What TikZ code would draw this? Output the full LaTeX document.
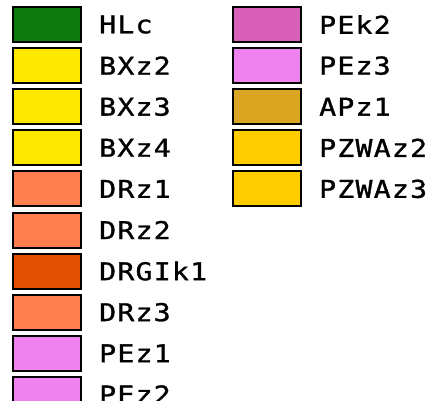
\documentclass[tikz,border=0pt]{standalone}
\usepackage{fontspec}
\newfontfamily\legfont[LetterSpace=5,FakeStretch=1.15,FakeBold=1.2]{DejaVu Sans Mono}
\definecolor{cHL}{HTML}{0E7A0E}
\definecolor{cBX}{HTML}{FFE800}
\definecolor{cDR}{HTML}{FF7F50}
\definecolor{cDRG}{HTML}{E05000}
\definecolor{cPE}{HTML}{EE82EE}
\definecolor{cPEk}{HTML}{D860B8}
\definecolor{cAP}{HTML}{DAA520}
\definecolor{cPZ}{HTML}{FFCC00}
\tikzset{
  swatch/.style={draw=black, line width=2pt, minimum width=68pt, minimum height=35pt, inner sep=0pt, outer sep=0pt},
  lbl/.style={anchor=west, inner sep=0pt, font=\legfont\fontsize{24.5pt}{26pt}\selectfont}
}
\begin{document}
\begin{tikzpicture}[x=1pt,y=-1pt]
\useasboundingbox (0,0) rectangle (436,401);
\clip (0,0) rectangle (436,401);
\foreach \i/\c/\t in {0/cHL/HLc,1/cBX/BXz2,2/cBX/BXz3,3/cBX/BXz4,4/cDR/DRz1,5/cDR/DRz2,6/cDRG/DRGIk1,7/cDR/DRz3,8/cPE/PEz1,9/cPE/PEz2}{
  \node[swatch, fill=\c] (L\i) at (47, 24.5+41.1*\i) {};
  \node[lbl] (T\i) at (99, 24.5+41.1*\i) {\t};
}
\foreach \i/\c/\t in {0/cPEk/PEk2,1/cPE/PEz3,2/cAP/APz1,3/cPZ/PZWAz2,4/cPZ/PZWAz3}{
  \node[swatch, fill=\c] (R\i) at (267, 24.5+41.1*\i) {};
  \node[lbl] (U\i) at (319, 24.5+41.1*\i) {\t};
}
\end{tikzpicture}
\end{document}
